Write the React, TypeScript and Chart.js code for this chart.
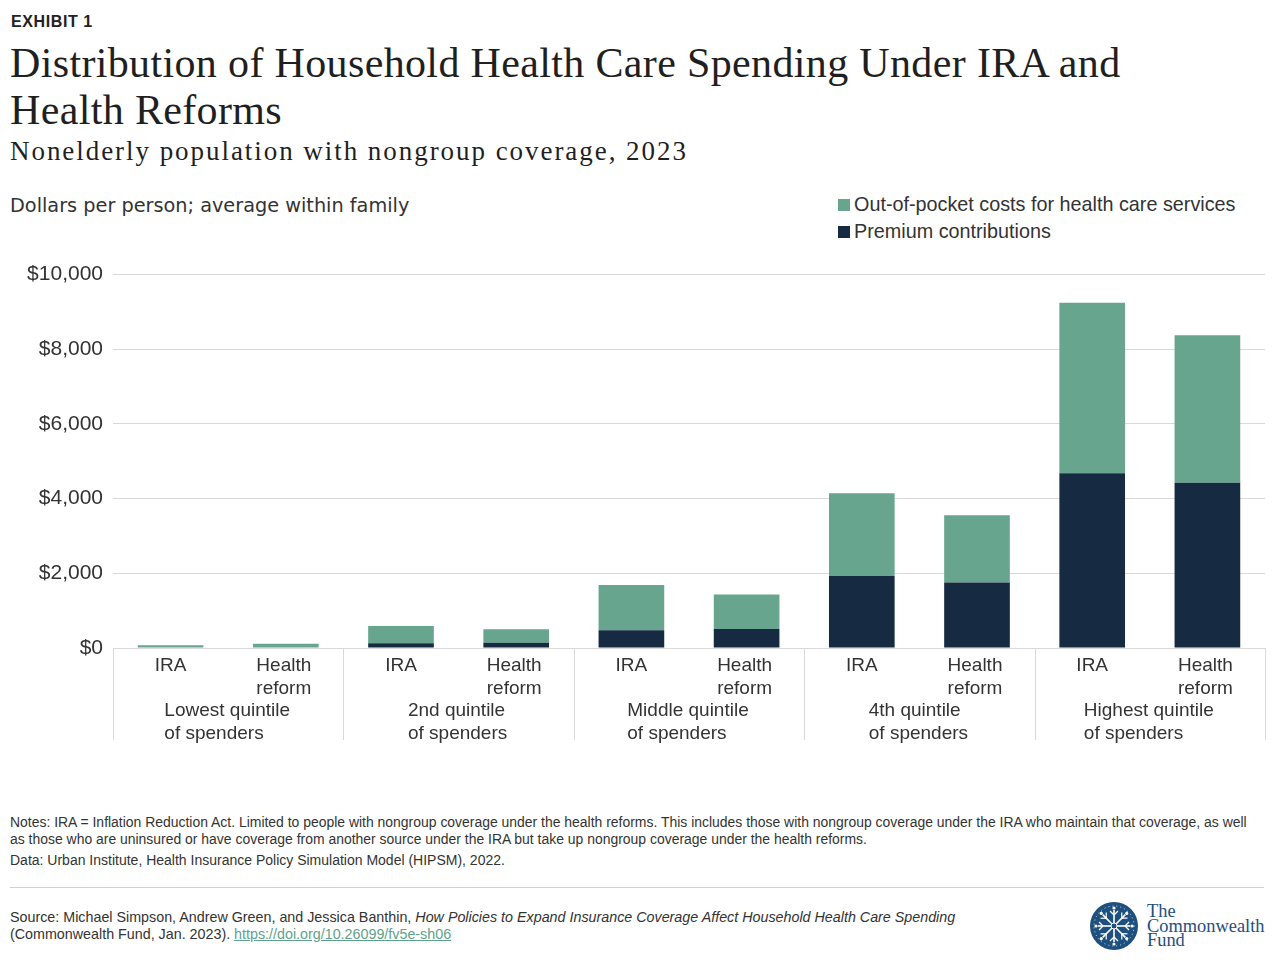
import React, { useEffect, useRef } from "react";
import { Chart, registerables } from "chart.js";

Chart.register(...registerables);

// ---- Data ----
const barLabels = [
  "IRA", "Health reform",
  "IRA", "Health reform",
  "IRA", "Health reform",
  "IRA", "Health reform",
  "IRA", "Health reform",
];
const groupLabels = [
  ["Lowest quintile", "of spenders"],
  ["2nd quintile", "of spenders"],
  ["Middle quintile", "of spenders"],
  ["4th quintile", "of spenders"],
  ["Highest quintile", "of spenders"],
];
const premiumContributions = [0, 0, 125, 142, 473, 508, 1925, 1757, 4680, 4428];
const outOfPocketCosts = [75, 115, 463, 358, 1212, 928, 2219, 1799, 4568, 3947];
const yTickValues = [0, 2000, 4000, 6000, 8000, 10000];

const seriesNames = ["Out-of-pocket costs for health care services", "Premium contributions"];
const GREEN = "#68a58e";
const NAVY = "#162b42";
const LABEL_COLOR = "#333333";
const GRID = "#d9d9d9";
const SANS = '"Liberation Sans", Arial, sans-serif';

const categoryAxisPlugin = {
  id: "categoryAxis",
  afterDraw(chart: any) {
    const { ctx, chartArea, scales } = chart;
    const x = scales.x;
    const bottom = chartArea.bottom;
    ctx.save();
    ctx.strokeStyle = GRID;
    ctx.lineWidth = 1;
    ctx.beginPath();
    ctx.moveTo(chartArea.left, bottom + 0.5);
    ctx.lineTo(chartArea.right, bottom + 0.5);
    ctx.stroke();
    const n = barLabels.length;
    const step = (chartArea.right - chartArea.left) / n;
    for (let g = 0; g <= groupLabels.length; g++) {
      const sx = Math.round(chartArea.left + g * 2 * step) + 0.5;
      ctx.beginPath();
      ctx.moveTo(sx, bottom);
      ctx.lineTo(sx, bottom + 92);
      ctx.stroke();
    }
    ctx.fillStyle = LABEL_COLOR;
    ctx.font = `19px ${SANS}`;
    ctx.textAlign = "center";
    ctx.textBaseline = "middle";
    for (let i = 0; i < n; i++) {
      const cx = x.getPixelForValue(i) - (i % 2 === 1 ? 2 : 0);
      const parts = barLabels[i].split(" ");
      parts.forEach((p, k) => ctx.fillText(p, cx, bottom + 18 + k * 23));
    }
    ctx.textAlign = "left";
    groupLabels.forEach((lines, g) => {
      const center = chartArea.left + (g * 2 + 1) * step;
      const w = Math.max(...lines.map((l) => ctx.measureText(l).width));
      lines.forEach((l, k) => ctx.fillText(l, center - w / 2 - 1, bottom + 63 + k * 23));
    });
    ctx.restore();
  },
};

function BarChart() {
  const ref = useRef<HTMLCanvasElement | null>(null);
  useEffect(() => {
    if (!ref.current) return;
    const chart = new Chart(ref.current, {
      type: "bar",
      data: {
        labels: barLabels,
        datasets: [
          {
            label: seriesNames[1],
            data: premiumContributions,
            backgroundColor: NAVY,
            barPercentage: 0.57,
            categoryPercentage: 1,
          },
          {
            label: seriesNames[0],
            data: outOfPocketCosts,
            backgroundColor: GREEN,
            barPercentage: 0.57,
            categoryPercentage: 1,
          },
        ],
      },
      options: {
        responsive: false,
        animation: false,
        maintainAspectRatio: false,
        layout: { padding: { top: 16, bottom: 104, left: 0, right: 15 } },
        plugins: { legend: { display: false }, tooltip: { enabled: false } },
        scales: {
          x: {
            stacked: true,
            display: false,
          },
          y: {
            stacked: true,
            min: 0,
            max: 10000,
            afterFit(scale: any) {
              scale.width = 113;
            },
            afterBuildTicks(scale: any) {
              scale.ticks = yTickValues.map((v) => ({ value: v }));
            },
            border: { display: false },
            grid: { color: GRID, drawTicks: false },
            ticks: {
              padding: 10,
              color: LABEL_COLOR,
              font: { family: SANS, size: 21 },
              callback: (v: any) => "$" + Number(v).toLocaleString("en-US"),
            },
          },
        },
      },
      plugins: [categoryAxisPlugin],
    });
    return () => chart.destroy();
  }, []);
  return <canvas ref={ref} width={1280} height={500} style={{ position: "absolute", left: 0, top: 252 }} />;
}

function Logo() {
  const spokes = Array.from({ length: 8 }, (_, i) => i * 45);
  return (
    <div style={{ position: "absolute", left: 1089, top: 901, width: 190, height: 52 }}>
      <svg width={52} height={52} style={{ position: "absolute", left: 0, top: 0 }}>
        <circle cx={25} cy={25} r={24} fill="#1d4f7f" />
        <circle cx={25} cy={25} r={20} fill="none" stroke="#ffffff" strokeWidth={0.8} strokeDasharray="1 3" />
        {spokes.map((a) => (
          <g key={a} transform={`rotate(${a} 25 25)`}>
            <line x1={25} y1={25} x2={25} y2={9} stroke="#ffffff" strokeWidth={1.6} />
            <line x1={25} y1={14} x2={21} y2={10} stroke="#ffffff" strokeWidth={1.2} />
            <line x1={25} y1={14} x2={29} y2={10} stroke="#ffffff" strokeWidth={1.2} />
            <circle cx={25} cy={7} r={1.6} fill="#ffffff" />
          </g>
        ))}
        <circle cx={25} cy={25} r={3} fill="#1d4f7f" stroke="#ffffff" strokeWidth={1} />
      </svg>
      <div
        style={{
          position: "absolute",
          left: 58,
          top: 3,
          fontFamily: '"Liberation Serif", serif',
          fontSize: 18.4,
          lineHeight: "14.5px",
          color: "#1d4f7f",
          whiteSpace: "nowrap",
        }}
      >
        The
        <br />
        Commonwealth
        <br />
        Fund
      </div>
    </div>
  );
}

export default function App() {
  const sans = SANS;
  return (
    <div
      style={{
        position: "absolute",
        left: 0,
        top: 0,
        width: 1280,
        height: 960,
        background: "#ffffff",
        overflow: "hidden",
        color: "#222",
      }}
    >
      <div style={{ position: "absolute", left: 11, top: 13, fontFamily: sans, fontWeight: 700, fontSize: 16, letterSpacing: 0.6, color: "#222" }}>
        EXHIBIT 1
      </div>
      <div
        style={{
          position: "absolute",
          left: 10,
          top: 40,
          width: 1250,
          fontFamily: '"Liberation Serif", serif',
          fontSize: 42,
          letterSpacing: 0.35,
          lineHeight: "47px",
          color: "#1f1f1f",
          whiteSpace: "nowrap",
        }}
      >
        Distribution of Household Health Care Spending Under IRA and
        <br />
        Health Reforms
      </div>
      <div
        style={{
          position: "absolute",
          left: 10,
          top: 136,
          fontFamily: '"Liberation Serif", serif',
          fontSize: 27,
          letterSpacing: 1.95,
          color: "#1f1f1f",
          whiteSpace: "nowrap",
        }}
      >
        Nonelderly population with nongroup coverage, 2023
      </div>
      <div style={{ position: "absolute", left: 10, top: 194, fontFamily: '"DejaVu Sans", sans-serif', fontSize: 19.3, color: "#333" }}>
        Dollars per person; average within family
      </div>
      <div style={{ position: "absolute", left: 838, top: 191, fontFamily: sans, fontSize: 19.8, color: "#333", lineHeight: "27px" }}>
        {[GREEN, NAVY].map((c, i) => (
          <div key={i} style={{ display: "flex", alignItems: "center" }}>
            <span style={{ display: "inline-block", width: 12, height: 12, background: c, marginRight: 4 }} />
            <span>{seriesNames[i]}</span>
          </div>
        ))}
      </div>

      <BarChart />

      <div style={{ position: "absolute", left: 10, top: 814, width: 1268, fontFamily: sans, fontSize: 13.95, color: "#333", lineHeight: "17px", whiteSpace: "nowrap" }}>
        Notes: IRA = Inflation Reduction Act. Limited to people with nongroup coverage under the health reforms. This includes those with nongroup coverage under the IRA who maintain that coverage, as well
        <br />
        as those who are uninsured or have coverage from another source under the IRA but take up nongroup coverage under the health reforms.
      </div>
      <div style={{ position: "absolute", left: 10, top: 852, fontFamily: sans, fontSize: 14, color: "#333" }}>
        Data: Urban Institute, Health Insurance Policy Simulation Model (HIPSM), 2022.
      </div>
      <div style={{ position: "absolute", left: 10, top: 887, width: 1254, height: 1, background: "#d0d0d0" }} />
      <div style={{ position: "absolute", left: 10, top: 909, width: 1060, fontFamily: sans, fontSize: 14.3, color: "#333", lineHeight: "17px", whiteSpace: "nowrap" }}>
        Source: Michael Simpson, Andrew Green, and Jessica Banthin,{" "}
        <i>How Policies to Expand Insurance Coverage Affect Household Health Care Spending</i>
        <br />
        (Commonwealth Fund, Jan. 2023).{" "}
        <span style={{ color: "#5ea28c", textDecoration: "underline" }}>https://doi.org/10.26099/fv5e-sh06</span>
      </div>
      <Logo />
    </div>
  );
}
